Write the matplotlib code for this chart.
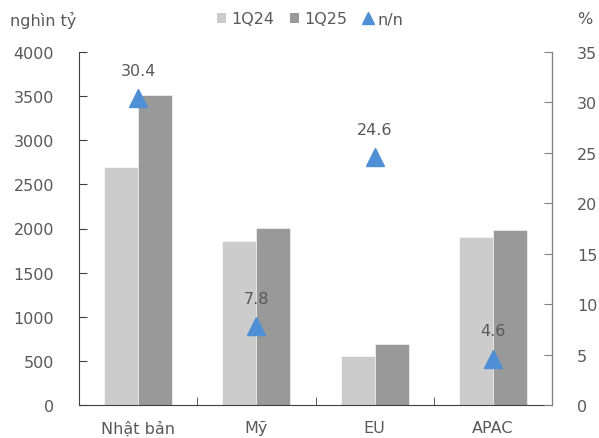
import matplotlib
matplotlib.use("Agg")
import matplotlib.pyplot as plt
from matplotlib.patches import Patch
from matplotlib.lines import Line2D
import numpy as np

categories = ["Nhật bản", "Mỹ", "EU", "APAC"]
q24 = [2700, 1860, 555, 1900]
q25 = [3510, 2005, 690, 1985]
yoy = [30.4, 7.8, 24.6, 4.6]
left_ticks = [0, 500, 1000, 1500, 2000, 2500, 3000, 3500, 4000]
right_ticks = [0, 5, 10, 15, 20, 25, 30, 35]

TXT = "#595959"
C24 = "#CCCCCC"
C25 = "#999999"
CTRI = "#4F8FD6"
FS = 11.5

plt.rcParams["font.family"] = ["DejaVu Sans"]

fig = plt.figure(figsize=(5.99, 4.39), dpi=100)
ax = fig.add_axes([79 / 599, 1 - 406 / 439, (552 - 79) / 599, (406 - 53) / 439])
ax2 = ax.twinx()

x = np.arange(len(categories))
w = 0.2875
ax.bar(x - w / 2, q24, w, color=C24, edgecolor="white", linewidth=0.4, zorder=2)
ax.bar(x + w / 2, q25, w, color=C25, edgecolor="white", linewidth=0.4, zorder=2)

ax.set_xlim(-0.5, len(categories) - 0.5)
ax.set_ylim(0, 4000)
ax.set_yticks(left_ticks)
ax.set_xticks(x)
ax.set_xticklabels(categories)
ax.set_xticks(np.arange(0.5, len(categories) - 0.5, 1), minor=True)
ax.tick_params(axis="x", which="major", length=0, pad=11, labelsize=FS, labelcolor=TXT)
ax.tick_params(axis="x", which="minor", direction="in", length=6, color="#404040")
ax.tick_params(axis="y", direction="in", length=6, pad=18, labelsize=FS,
               labelcolor=TXT, color="#404040")

ax2.set_ylim(0, 35)
ax2.set_yticks(right_ticks)
ax2.tick_params(axis="y", direction="in", length=6, pad=18, labelsize=FS,
                labelcolor=TXT, color="#808080")
ax2.plot(x, yoy, linestyle="none", marker="^", markersize=13, color=CTRI, zorder=5)
for xi, v in zip(x, yoy):
    ax2.annotate(f"{v}", (xi, v), xytext=(0, 20), textcoords="offset points",
                 ha="center", va="center", fontsize=FS, color=TXT)

for a in (ax, ax2):
    a.spines["top"].set_visible(False)
ax.spines["left"].set_color("#404040")
ax.spines["bottom"].set_color("#404040")
ax2.spines["right"].set_color("#808080")
ax2.spines["left"].set_visible(False)
ax2.spines["bottom"].set_visible(False)

fig.text(10 / 599, 1 - 20 / 439, "nghìn tỷ", fontsize=FS, color=TXT, ha="left", va="center")
fig.text(592 / 599, 1 - 20 / 439, "%", fontsize=FS, color=TXT, ha="right", va="center")

handles = [
    Patch(facecolor=C24, edgecolor="none"),
    Patch(facecolor=C25, edgecolor="none"),
    Line2D([], [], linestyle="none", marker="^", markersize=9, color=CTRI),
]
leg = fig.legend(handles, ["1Q24", "1Q25", "n/n"], loc="center",
                 bbox_to_anchor=(310 / 599, 1 - 20 / 439), ncol=3, frameon=False,
                 handlelength=0.6, handleheight=0.6, handletextpad=0.3,
                 columnspacing=1.0, fontsize=FS)
for t in leg.get_texts():
    t.set_color(TXT)

fig.savefig("out.png", dpi=100)
